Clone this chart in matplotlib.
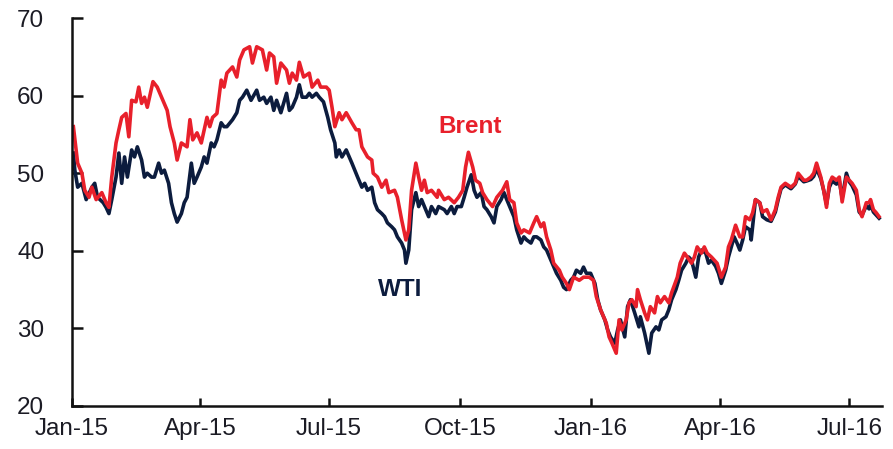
import matplotlib
matplotlib.use("Agg")
import matplotlib.pyplot as plt
import matplotlib.dates as mdates
import pandas as pd

# Brent and WTI crude prices (USD/bbl)
brent_dates = [
    "2015-01-02", "2015-01-05", "2015-01-08", "2015-01-10", "2015-01-13", "2015-01-15",
    "2015-01-18", "2015-01-22", "2015-01-25", "2015-01-27", "2015-01-29", "2015-02-01",
    "2015-02-03", "2015-02-05", "2015-02-08", "2015-02-10", "2015-02-12", "2015-02-15",
    "2015-02-17", "2015-02-19", "2015-02-21", "2015-02-23", "2015-02-27", "2015-03-02",
    "2015-03-05", "2015-03-09", "2015-03-11", "2015-03-14", "2015-03-16", "2015-03-19",
    "2015-03-23", "2015-03-25", "2015-03-27", "2015-03-30", "2015-04-02", "2015-04-06",
    "2015-04-08", "2015-04-10", "2015-04-13", "2015-04-16", "2015-04-18", "2015-04-20",
    "2015-04-24", "2015-04-27", "2015-04-29", "2015-05-02", "2015-05-06", "2015-05-08",
    "2015-05-11", "2015-05-15", "2015-05-18", "2015-05-20", "2015-05-23", "2015-05-25",
    "2015-05-28", "2015-06-01", "2015-06-03", "2015-06-05", "2015-06-08", "2015-06-10",
    "2015-06-13", "2015-06-17", "2015-06-19", "2015-06-23", "2015-06-25", "2015-06-29",
    "2015-07-01", "2015-07-03", "2015-07-05", "2015-07-08", "2015-07-10", "2015-07-13",
    "2015-07-17", "2015-07-20", "2015-07-22", "2015-07-24", "2015-07-28", "2015-07-31",
    "2015-08-01", "2015-08-04", "2015-08-07", "2015-08-10", "2015-08-12", "2015-08-16",
    "2015-08-18", "2015-08-21", "2015-08-24", "2015-08-26", "2015-08-28", "2015-08-31",
    "2015-09-02", "2015-09-04", "2015-09-06", "2015-09-08", "2015-09-11", "2015-09-15",
    "2015-09-16", "2015-09-20", "2015-09-23", "2015-09-27", "2015-09-30", "2015-10-03",
    "2015-10-05", "2015-10-07", "2015-10-10", "2015-10-12", "2015-10-15", "2015-10-17",
    "2015-10-20", "2015-10-24", "2015-10-27", "2015-10-31", "2015-11-03", "2015-11-05",
    "2015-11-08", "2015-11-10", "2015-11-13", "2015-11-15", "2015-11-19", "2015-11-22",
    "2015-11-24", "2015-11-27", "2015-11-29", "2015-12-01", "2015-12-04", "2015-12-06",
    "2015-12-10", "2015-12-12", "2015-12-15", "2015-12-17", "2015-12-20", "2015-12-24",
    "2015-12-27", "2015-12-31", "2016-01-03", "2016-01-05", "2016-01-08", "2016-01-12",
    "2016-01-14", "2016-01-16", "2016-01-19", "2016-01-21", "2016-01-23", "2016-01-26",
    "2016-01-28", "2016-01-30", "2016-02-02", "2016-02-03", "2016-02-05", "2016-02-08",
    "2016-02-10", "2016-02-12", "2016-02-15", "2016-02-17", "2016-02-19", "2016-02-22",
    "2016-02-25", "2016-02-27", "2016-03-02", "2016-03-04", "2016-03-07", "2016-03-09",
    "2016-03-12", "2016-03-14", "2016-03-16", "2016-03-19", "2016-03-21", "2016-03-23",
    "2016-03-26", "2016-03-30", "2016-04-02", "2016-04-05", "2016-04-07", "2016-04-09",
    "2016-04-12", "2016-04-15", "2016-04-17", "2016-04-19", "2016-04-22", "2016-04-24",
    "2016-04-26", "2016-04-29", "2016-05-01", "2016-05-04", "2016-05-07", "2016-05-10",
    "2016-05-12", "2016-05-14", "2016-05-17", "2016-05-21", "2016-05-24", "2016-05-26",
    "2016-05-30", "2016-06-01", "2016-06-04", "2016-06-06", "2016-06-08", "2016-06-11",
    "2016-06-13", "2016-06-15", "2016-06-17", "2016-06-19", "2016-06-22", "2016-06-24",
    "2016-06-26", "2016-06-29", "2016-07-01", "2016-07-03", "2016-07-06", "2016-07-08",
    "2016-07-10", "2016-07-13", "2016-07-15", "2016-07-16", "2016-07-18", "2016-07-20",
    "2016-07-22",
]
brent_values = [
    56.0, 51.3, 50.0, 47.8, 46.9, 48.2, 46.6, 47.5, 46.2, 45.6, 49.5, 53.9,
    55.6, 57.2, 57.7, 54.7, 59.4, 59.2, 61.1, 59.0, 59.8, 58.5, 61.8, 61.1,
    59.8, 58.1, 56.0, 53.9, 51.7, 53.9, 53.4, 56.9, 54.3, 55.2, 53.9, 57.2,
    56.0, 57.2, 57.7, 62.0, 61.1, 62.9, 63.7, 62.4, 64.6, 65.9, 66.3, 64.2,
    66.3, 65.9, 63.3, 65.5, 65.0, 61.6, 64.2, 63.3, 61.6, 62.9, 62.0, 64.3,
    62.4, 62.9, 61.1, 62.0, 61.1, 61.1, 60.7, 58.5, 56.0, 57.8, 56.9, 57.8,
    56.5, 55.6, 55.6, 53.4, 52.1, 51.7, 50.0, 49.5, 48.2, 49.1, 47.5, 47.8,
    46.9, 44.0, 41.4, 42.7, 47.8, 51.3, 49.5, 47.8, 49.1, 47.5, 47.8, 46.9,
    47.8, 46.6, 46.9, 46.2, 46.9, 47.8, 50.8, 52.7, 50.8, 49.1, 48.7, 47.5,
    46.6, 45.7, 46.9, 47.8, 48.9, 46.6, 46.2, 43.6, 42.3, 42.7, 42.3, 43.6,
    44.4, 43.1, 43.6, 41.8, 40.1, 38.4, 37.5, 36.6, 35.8, 35.0, 36.6, 36.2,
    36.6, 36.6, 36.2, 34.1, 32.4, 30.7, 28.9, 28.1, 26.8, 31.1, 29.8, 31.1,
    33.3, 33.7, 32.8, 35.0, 33.7, 32.0, 31.1, 32.8, 32.0, 34.1, 33.3, 34.1,
    33.3, 34.6, 36.6, 38.4, 39.7, 39.2, 38.4, 39.2, 40.5, 39.7, 40.5, 39.7,
    39.2, 38.4, 36.6, 37.9, 40.5, 41.4, 43.3, 41.8, 41.8, 44.4, 44.0, 44.9,
    46.6, 46.2, 45.0, 45.3, 44.0, 45.3, 46.9, 48.2, 48.7, 48.2, 48.7, 50.0,
    49.1, 49.1, 49.5, 50.0, 51.3, 49.5, 47.8, 45.6, 48.7, 49.5, 49.1, 49.5,
    46.3, 49.5, 49.1, 48.7, 47.8, 45.3, 44.4, 46.2, 46.2, 46.6, 45.3, 44.9,
    44.4,
]

wti_dates = [
    "2015-01-02", "2015-01-03", "2015-01-05", "2015-01-08", "2015-01-11", "2015-01-15",
    "2015-01-17", "2015-01-19", "2015-01-23", "2015-01-25", "2015-01-27", "2015-01-29",
    "2015-02-01", "2015-02-03", "2015-02-05", "2015-02-07", "2015-02-09", "2015-02-12",
    "2015-02-14", "2015-02-16", "2015-02-19", "2015-02-21", "2015-02-23", "2015-02-26",
    "2015-02-28", "2015-03-03", "2015-03-05", "2015-03-07", "2015-03-10", "2015-03-12",
    "2015-03-14", "2015-03-16", "2015-03-19", "2015-03-21", "2015-03-23", "2015-03-26",
    "2015-03-28", "2015-03-30", "2015-04-02", "2015-04-04", "2015-04-06", "2015-04-09",
    "2015-04-11", "2015-04-13", "2015-04-16", "2015-04-18", "2015-04-20", "2015-04-24",
    "2015-04-27", "2015-04-29", "2015-05-01", "2015-05-04", "2015-05-07", "2015-05-11",
    "2015-05-13", "2015-05-16", "2015-05-18", "2015-05-21", "2015-05-23", "2015-05-25",
    "2015-05-28", "2015-06-01", "2015-06-03", "2015-06-05", "2015-06-08", "2015-06-10",
    "2015-06-12", "2015-06-15", "2015-06-17", "2015-06-19", "2015-06-22", "2015-06-24",
    "2015-06-27", "2015-06-30", "2015-07-02", "2015-07-05", "2015-07-06", "2015-07-08",
    "2015-07-10", "2015-07-13", "2015-07-17", "2015-07-19", "2015-07-21", "2015-07-24",
    "2015-07-26", "2015-07-28", "2015-07-31", "2015-08-02", "2015-08-04", "2015-08-07",
    "2015-08-09", "2015-08-11", "2015-08-14", "2015-08-16", "2015-08-18", "2015-08-21",
    "2015-08-23", "2015-08-24", "2015-08-26", "2015-08-28", "2015-08-31", "2015-09-02",
    "2015-09-04", "2015-09-07", "2015-09-09", "2015-09-11", "2015-09-14", "2015-09-16",
    "2015-09-20", "2015-09-22", "2015-09-25", "2015-09-27", "2015-09-29", "2015-10-02",
    "2015-10-04", "2015-10-06", "2015-10-09", "2015-10-11", "2015-10-13", "2015-10-16",
    "2015-10-18", "2015-10-20", "2015-10-23", "2015-10-25", "2015-10-27", "2015-10-30",
    "2015-11-01", "2015-11-03", "2015-11-06", "2015-11-08", "2015-11-10", "2015-11-13",
    "2015-11-15", "2015-11-17", "2015-11-20", "2015-11-22", "2015-11-24", "2015-11-27",
    "2015-11-29", "2015-12-01", "2015-12-04", "2015-12-06", "2015-12-08", "2015-12-11",
    "2015-12-13", "2015-12-15", "2015-12-18", "2015-12-20", "2015-12-22", "2015-12-25",
    "2015-12-27", "2015-12-29", "2016-01-01", "2016-01-04", "2016-01-06", "2016-01-08",
    "2016-01-11", "2016-01-13", "2016-01-15", "2016-01-18", "2016-01-20", "2016-01-22",
    "2016-01-25", "2016-01-27", "2016-01-29", "2016-02-01", "2016-02-04", "2016-02-05",
    "2016-02-08", "2016-02-11", "2016-02-13", "2016-02-16", "2016-02-18", "2016-02-20",
    "2016-02-23", "2016-02-25", "2016-02-27", "2016-03-01", "2016-03-03", "2016-03-05",
    "2016-03-08", "2016-03-10", "2016-03-12", "2016-03-15", "2016-03-17", "2016-03-19",
    "2016-03-22", "2016-03-24", "2016-03-26", "2016-03-29", "2016-03-31", "2016-04-02",
    "2016-04-05", "2016-04-07", "2016-04-09", "2016-04-11", "2016-04-13", "2016-04-15",
    "2016-04-17", "2016-04-19", "2016-04-22", "2016-04-23", "2016-04-24", "2016-04-26",
    "2016-04-29", "2016-05-01", "2016-05-04", "2016-05-07", "2016-05-10", "2016-05-12",
    "2016-05-14", "2016-05-17", "2016-05-21", "2016-05-24", "2016-05-26", "2016-05-30",
    "2016-06-01", "2016-06-04", "2016-06-06", "2016-06-08", "2016-06-11", "2016-06-13",
    "2016-06-15", "2016-06-17", "2016-06-19", "2016-06-22", "2016-06-24", "2016-06-26",
    "2016-06-29", "2016-07-01", "2016-07-03", "2016-07-06", "2016-07-08", "2016-07-10",
    "2016-07-13", "2016-07-15", "2016-07-16", "2016-07-18", "2016-07-20", "2016-07-22",
]
wti_values = [
    52.6, 50.4, 48.2, 48.7, 46.6, 48.2, 48.7, 46.9, 46.2, 45.6, 44.8, 46.6,
    49.5, 52.6, 48.7, 52.1, 49.5, 53.0, 52.1, 53.4, 51.7, 49.5, 50.0, 49.5,
    49.5, 51.3, 50.0, 50.4, 48.7, 46.2, 44.8, 43.7, 44.8, 46.2, 46.9, 51.3,
    48.7, 49.5, 50.8, 52.1, 51.3, 53.9, 53.4, 54.3, 56.5, 56.0, 56.0, 56.9,
    57.8, 59.4, 59.8, 60.7, 59.4, 60.7, 59.4, 59.8, 59.0, 59.8, 58.1, 59.4,
    57.8, 60.3, 58.1, 58.5, 59.8, 61.4, 59.8, 59.8, 60.3, 59.8, 60.3, 59.8,
    59.2, 57.2, 55.6, 53.9, 52.1, 53.0, 52.1, 53.0, 51.3, 50.4, 49.5, 48.2,
    48.7, 47.8, 48.2, 46.2, 45.3, 44.8, 44.4, 43.6, 43.1, 42.7, 41.8, 41.0,
    40.1, 38.4, 40.1, 45.3, 47.5, 45.7, 46.6, 45.3, 44.4, 45.7, 44.8, 45.7,
    45.3, 44.8, 45.7, 44.8, 45.7, 45.7, 46.9, 48.2, 49.8, 47.8, 46.9, 47.5,
    45.7, 45.3, 44.4, 43.6, 45.7, 46.6, 47.5, 46.6, 45.3, 44.4, 42.7, 41.0,
    41.8, 41.4, 41.0, 41.8, 41.8, 41.4, 40.5, 40.1, 38.8, 37.9, 37.1, 36.2,
    35.3, 35.0, 36.2, 36.6, 37.5, 37.1, 37.9, 37.1, 37.1, 35.8, 33.7, 32.4,
    31.1, 29.8, 28.9, 28.1, 29.8, 31.1, 28.9, 32.8, 33.7, 32.0, 30.2, 31.5,
    29.4, 26.8, 29.4, 30.2, 29.8, 31.1, 31.5, 32.4, 33.7, 35.0, 36.2, 37.5,
    38.4, 39.2, 38.8, 36.6, 39.2, 40.1, 39.7, 38.4, 38.8, 38.0, 37.1, 35.8,
    37.5, 39.2, 40.5, 41.8, 41.0, 40.1, 41.4, 43.1, 42.7, 41.4, 43.1, 46.6,
    46.2, 44.4, 44.0, 43.8, 45.0, 46.6, 48.0, 48.5, 48.0, 48.6, 49.6, 48.9,
    49.0, 49.2, 49.6, 50.6, 49.3, 47.8, 46.0, 48.2, 49.0, 48.6, 49.0, 46.8,
    50.0, 48.9, 48.4, 47.2, 45.0, 44.6, 45.8, 45.4, 46.0, 45.0, 44.6, 44.2,
]

tick_dates = ["2015-01-01", "2015-04-01", "2015-07-01", "2015-10-01",
              "2016-01-01", "2016-04-01", "2016-07-01"]
y_ticks = [20, 30, 40, 50, 60, 70]

RED = "#e8202b"
NAVY = "#0c1c3e"
TXT = "#1b1b24"

plt.rcParams["font.family"] = ["Liberation Sans", "DejaVu Sans"]

fig = plt.figure(figsize=(8.93, 4.49), dpi=100)
ax = fig.add_axes([0.0806, 0.0958, 0.907, 0.864])

ax.plot(pd.to_datetime(wti_dates), wti_values, color=NAVY, lw=2.6,
        solid_joinstyle="round")
ax.plot(pd.to_datetime(brent_dates), brent_values, color=RED, lw=2.6,
        solid_joinstyle="round")

ax.text(pd.Timestamp("2015-10-08"), 56.0, "Brent", color=RED,
        fontsize=17.5, fontweight="bold", ha="center", va="center")
ax.text(pd.Timestamp("2015-08-20"), 35.0, "WTI", color=NAVY,
        fontsize=17.5, fontweight="bold", ha="center", va="center")

ax.set_xlim(pd.Timestamp("2015-01-01"), pd.Timestamp("2016-07-24"))
ax.set_ylim(20, 70)
ax.set_xticks(pd.to_datetime(tick_dates))
ax.xaxis.set_major_formatter(mdates.DateFormatter("%b-%y"))
ax.set_yticks(y_ticks)

for side in ("top", "right"):
    ax.spines[side].set_visible(False)
for side in ("left", "bottom"):
    ax.spines[side].set_linewidth(1.8)
    ax.spines[side].set_color("#111111")

ax.tick_params(axis="y", direction="in", length=8, width=1.8, pad=20,
               labelsize=17.5, labelcolor=TXT, color="#111111")
ax.tick_params(axis="x", direction="in", length=6, width=1.8, pad=9,
               labelsize=17.5, labelcolor=TXT, color="#111111")

fig.savefig("out.png", dpi=100)
